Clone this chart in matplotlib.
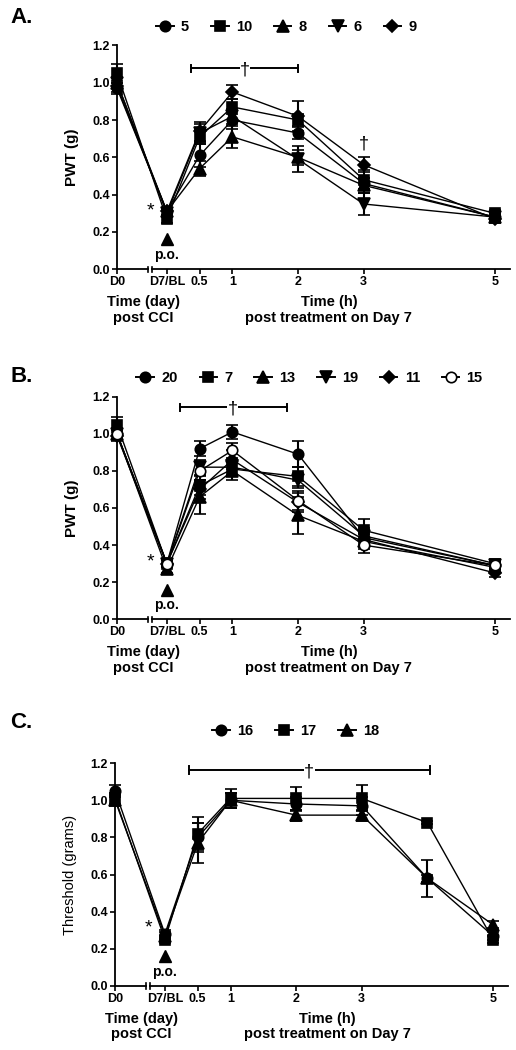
import matplotlib.pyplot as plt
import matplotlib.transforms as mtransforms
from matplotlib.lines import Line2D
import numpy as np

plt.rcParams['font.family'] = ['Liberation Sans', 'DejaVu Sans']
plt.rcParams['font.weight'] = 'bold'

# Data
# x positions: D0 sits left of the axis break, the rest are hours after dosing on day 7
tick_pos = [-0.76, 0, 0.5, 1, 2, 3, 5]
tick_labels = ["D0", "D7/BL", "0.5", "1", "2", "3", "5"]
x_ab = [-0.76, 0, 0.5, 1, 2, 3, 5]
x_c = [-0.76, 0, 0.5, 1, 2, 3, 4, 5]

# Panel A
a_names = ["5", "10", "8", "6", "9"]
a_vals = [
    [0.97, 0.31, 0.61, 0.80, 0.73, 0.46, 0.28],
    [1.05, 0.27, 0.71, 0.87, 0.80, 0.48, 0.30],
    [1.00, 0.31, 0.54, 0.71, 0.60, 0.45, 0.28],
    [1.00, 0.30, 0.73, 0.82, 0.59, 0.35, 0.28],
    [0.98, 0.31, 0.74, 0.95, 0.82, 0.56, 0.27],
]
a_err = [
    [0.03, 0.02, 0.06, 0.05, 0.03, 0.03, 0.02],
    [0.05, 0.02, 0.04, 0.04, 0.03, 0.05, 0.02],
    [0.03, 0.02, 0.04, 0.06, 0.04, 0.04, 0.02],
    [0.03, 0.02, 0.05, 0.04, 0.07, 0.06, 0.02],
    [0.03, 0.02, 0.05, 0.04, 0.08, 0.04, 0.02],
]

# Panel B
b_names = ["20", "7", "13", "19", "11", "15"]
b_vals = [
    [1.00, 0.30, 0.92, 1.01, 0.89, 0.44, 0.29],
    [1.05, 0.30, 0.72, 0.81, 0.77, 0.48, 0.30],
    [1.00, 0.27, 0.66, 0.80, 0.56, 0.42, 0.28],
    [1.00, 0.30, 0.82, 0.82, 0.75, 0.45, 0.29],
    [0.99, 0.30, 0.70, 0.86, 0.63, 0.43, 0.25],
    [1.00, 0.30, 0.80, 0.91, 0.64, 0.40, 0.29],
]
b_err = [
    [0.03, 0.02, 0.04, 0.04, 0.07, 0.04, 0.02],
    [0.04, 0.02, 0.05, 0.04, 0.05, 0.06, 0.02],
    [0.03, 0.02, 0.09, 0.05, 0.10, 0.04, 0.02],
    [0.03, 0.02, 0.04, 0.04, 0.04, 0.04, 0.02],
    [0.03, 0.02, 0.05, 0.05, 0.05, 0.04, 0.02],
    [0.03, 0.02, 0.05, 0.04, 0.05, 0.04, 0.02],
]

# Panel C
c_names = ["16", "17", "18"]
c_vals = [
    [1.05, 0.28, 0.80, 1.00, 0.98, 0.97, 0.58, 0.27],
    [1.01, 0.25, 0.82, 1.01, 1.01, 1.01, 0.88, 0.25],
    [1.00, 0.27, 0.77, 1.00, 0.92, 0.92, 0.58, 0.33],
]
c_err = [
    [0.03, 0.02, 0.08, 0.04, 0.04, 0.05, 0.10, 0.02],
    [0.03, 0.02, 0.09, 0.05, 0.06, 0.07, 0.01, 0.02],
    [0.03, 0.02, 0.11, 0.04, 0.03, 0.03, 0.02, 0.02],
]

# significance bars: (start, end, height, dagger x)
a_sig = (0.37, 2.0, 1.077, 1.19)
b_sig = (0.20, 1.83, 1.143, 1.00)
c_sig = (0.36, 4.04, 1.162, 2.20)
a_extra_dagger = (3.0, 0.67)

markers_ab = ['o', 's', '^', 'v', 'D', 'o']
faces = ['k', 'k', 'k', 'k', 'k', 'white']
msizes = [7.5, 7.5, 8, 8, 6.5, 7.5]

fig = plt.figure(figsize=(5.16, 10.5), dpi=100)


def draw_panel(rect, x, vals, errs, names, sig, ylabel, ylabel_bold, letter, letter_y, legend_y, legend_x):
    ax = fig.add_axes(rect)
    for i, (v, e) in enumerate(zip(vals, errs)):
        ax.errorbar(x, v, yerr=e, color='black', lw=1.0, elinewidth=1.5, capsize=4, capthick=1.5,
                    marker=markers_ab[i], ms=msizes[i], mfc=faces[i], mec='black', mew=1.2,
                    clip_on=False, zorder=3 + i)
    ax.set_xlim(-0.76, 5.23)
    ax.set_ylim(0, 1.2)
    ax.set_yticks(np.arange(0, 1.21, 0.2))
    ax.set_yticklabels([f"{t:.1f}" for t in np.arange(0, 1.21, 0.2)], fontsize=9, fontweight='bold')
    ax.set_xticks(tick_pos)
    ax.set_xticklabels(tick_labels, fontsize=9, fontweight='bold')
    ax.tick_params(axis='both', direction='out', length=3.5, width=1.2, pad=1.5)
    for s in ['top', 'right', 'bottom']:
        ax.spines[s].set_visible(False)
    ax.spines['left'].set_linewidth(1.3)

    # broken x axis
    tr = mtransforms.blended_transform_factory(ax.transData, ax.transAxes)
    ax.plot([-0.76, -0.285], [0, 0], color='k', lw=1.3, transform=tr, clip_on=False)
    ax.plot([-0.22, 5.23], [0, 0], color='k', lw=1.3, transform=tr, clip_on=False)
    for bx in (-0.285, -0.22):
        ax.plot([bx, bx], [-0.012, 0.012], color='k', lw=1.2, transform=tr, clip_on=False)

    # significance bar
    x0, x1, yh, xd = sig
    ax.plot([x0, x1], [yh, yh], color='k', lw=1.4, clip_on=False)
    for bx in (x0, x1):
        ax.plot([bx, bx], [yh - 0.02, yh + 0.02], color='k', lw=1.4, clip_on=False)
    ax.text(xd, yh - 0.01, "\u2020", ha='center', va='center', fontsize=13, fontweight='normal',
            bbox=dict(facecolor='white', edgecolor='none', pad=0.2))

    # dosing annotation
    ax.text(-0.25, 0.31, "*", ha='center', va='center', fontsize=14, fontweight='normal')
    ax.plot([0], [0.16], marker='^', color='k', ms=8, clip_on=False)
    ax.text(0, 0.075, "p.o.", ha='center', va='center', fontsize=10, fontweight='bold')

    ax.text(-0.36, -0.115, "Time (day)\npost CCI", transform=tr, ha='center', va='top',
            fontsize=10.5, fontweight='bold', linespacing=1.15)
    ax.text(2.47, -0.115, "Time (h)\npost treatment on Day 7", transform=tr, ha='center', va='top',
            fontsize=10.5, fontweight='bold', linespacing=1.15)

    ax.set_ylabel(ylabel, fontsize=11 if ylabel_bold else 10.5,
                  fontweight='bold' if ylabel_bold else 'normal', labelpad=10)

    fig.text(0.02, letter_y, letter, fontsize=16, fontweight='bold', va='center')

    handles = [Line2D([], [], color='k', lw=1.4, marker=markers_ab[i], ms=msizes[i],
                      mfc=faces[i], mec='k', mew=1.2) for i in range(len(names))]
    fig.legend(handles, names, loc='center', bbox_to_anchor=(legend_x, legend_y), ncol=len(names),
               frameon=False, handlelength=1.2, handletextpad=0.5, columnspacing=1.5,
               prop={'size': 10.5, 'weight': 'bold'})
    return ax


ax_a = draw_panel([0.2267, 0.7435, 0.7616, 0.2133], x_ab, a_vals, a_err, a_names, a_sig,
                  "PWT (g)", True, "A.", 0.983, 0.974, 0.555)
ax_a.text(a_extra_dagger[0], a_extra_dagger[1], "\u2020", ha='center', va='center', fontsize=13,
          fontweight='normal')
ax_b = draw_panel([0.2267, 0.4102, 0.7616, 0.2120], x_ab, b_vals, b_err, b_names, b_sig,
                  "PWT (g)", True, "B.", 0.641, 0.640, 0.600)
ax_c = draw_panel([0.2230, 0.0610, 0.7616, 0.2122], x_c, c_vals, c_err, c_names, c_sig,
                  "Threshold (grams)", False, "C.", 0.312, 0.304, 0.573)

plt.savefig("out.png", dpi=100)
